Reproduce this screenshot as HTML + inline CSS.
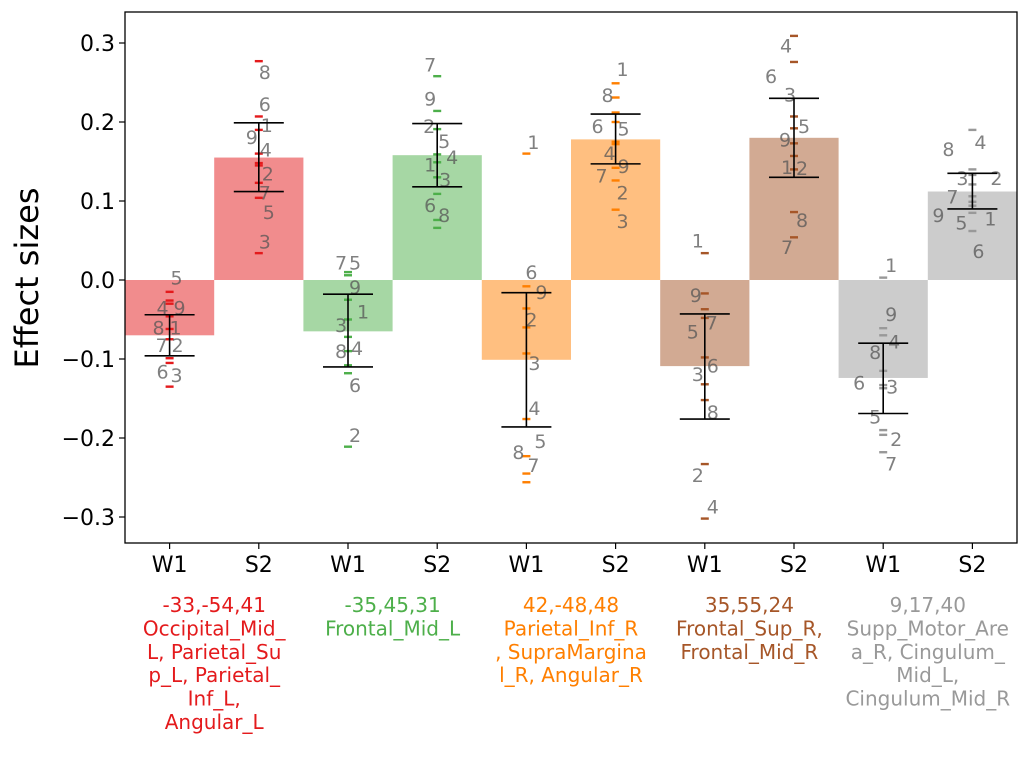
<!DOCTYPE html>
<html><head><meta charset="utf-8"><style>
body{margin:0;background:#fff;}
svg{font-family:"DejaVu Sans","Liberation Sans",sans-serif;}
</style></head><body>
<svg id="chart" width="1030" height="757" viewBox="0 0 1030 757" xmlns="http://www.w3.org/2000/svg"></svg>
<script>
const groups = ["W1","S2","W1","S2","W1","S2","W1","S2","W1","S2"];
const barValues = [-0.070,0.155,-0.065,0.158,-0.101,0.178,-0.109,0.180,-0.124,0.112];
const errHigh = [-0.044,0.199,-0.018,0.198,-0.016,0.210,-0.043,0.230,-0.080,0.135];
const errLow = [-0.096,0.112,-0.110,0.118,-0.186,0.147,-0.176,0.130,-0.169,0.090];
const pointValues = [
 [-0.015,-0.026,-0.046,-0.062,-0.075,-0.099,-0.105,-0.135,-0.03],
 [0.277,0.207,0.148,0.145,0.123,0.104,0.034,0.19,0.16],
 [0.010,0.006,-0.025,-0.072,-0.108,-0.118,-0.211,-0.05,-0.09],
 [0.258,0.214,0.191,0.159,0.149,0.109,0.076,0.066,0.13],
 [0.160,-0.008,-0.036,-0.093,-0.176,-0.223,-0.245,-0.256,-0.06],
 [0.249,0.231,0.212,0.200,0.175,0.172,0.142,0.126,0.089],
 [0.034,-0.017,-0.037,-0.048,-0.098,-0.132,-0.152,-0.233,-0.302],
 [0.309,0.276,0.207,0.192,0.173,0.157,0.086,0.054,0.14],
 [0.003,-0.061,-0.070,-0.115,-0.133,-0.137,-0.190,-0.196,-0.218],
 [0.190,0.140,0.133,0.121,0.106,0.099,0.094,0.085,0.062]
];
const labelTexts = ["1","2","3","4","5","6","7","8","9"];
const labelValues = [
 [-0.060,-0.082,-0.120,-0.035,0.003,-0.116,-0.082,-0.060,-0.035],
 [0.196,0.135,0.049,0.165,0.086,0.223,0.111,0.263,0.181],
 [-0.040,-0.196,-0.057,-0.086,0.022,-0.133,0.022,-0.090,-0.009],
 [0.146,0.195,0.127,0.156,0.176,0.095,0.273,0.082,0.230],
 [0.175,-0.050,-0.105,-0.162,-0.204,0.010,-0.234,-0.218,-0.015],
 [0.267,0.111,0.075,0.161,0.192,0.195,0.132,0.234,0.144],
 [0.050,-0.247,-0.119,-0.287,-0.065,-0.108,-0.054,-0.167,-0.019],
 [0.143,0.142,0.235,0.297,0.195,0.258,0.042,0.076,0.178],
 [0.019,-0.201,-0.135,-0.078,-0.173,-0.130,-0.232,-0.091,-0.043],
 [0.078,0.129,0.129,0.175,0.073,0.037,0.106,0.166,0.082]
];
const labelDx = [
 [6,8,7,-7,7,-7,-8,-11,10],
 [8,9,6,7,10,6,6,6,-7],
 [15,7,-7,9,7,7,-7,-7,7],
 [-7,-8,8,15,7,-7,-7,7,-7],
 [7,5,8,8,14,5,7,-8,15],
 [7,7,7,-6,8,-18,-14,-8,8],
 [-7,-7,-7,8,-12,8,7,8,-9],
 [-7,8,-4,-8,10,-23,-7,8,-9],
 [8,13,9,11,-8,-24,8,-8,8],
 [18,24,-10,8,-11,6,-20,-24,-34]
];
const yTicks = [-0.3,-0.2,-0.1,0.0,0.1,0.2,0.3];
const yTickLabels = ["\u22120.3","\u22120.2","\u22120.1","0.0","0.1","0.2","0.3"];
const regionLines = [
 ["-33,-54,41","Occipital_Mid_","L, Parietal_Su","p_L, Parietal_","Inf_L,","Angular_L"],
 ["-35,45,31","Frontal_Mid_L"],
 ["42,-48,48","Parietal_Inf_R",", SupraMargina","l_R, Angular_R"],
 ["35,55,24","Frontal_Sup_R,","Frontal_Mid_R"],
 ["9,17,40","Supp_Motor_Are","a_R, Cingulum_","Mid_L,","Cingulum_Mid_R"]
];
const colors = ["#e41a1c","#4daf4a","#ff7f00","#a65628","#999999"];
const barColors = ["#f18c8d","#a6d7a4","#ffbf80","#d2aa93","#cccccc"];

const NS="http://www.w3.org/2000/svg";
const svg=document.getElementById('chart');
const L=125,R=1017,T=12,B=543;
const bw=(R-L)/groups.length;
function y(v){return 280-790*v;}
function xc(i){return L+bw*(i+0.5);}
function mk(tag,attrs,parent){const e=document.createElementNS(NS,tag);for(const k in attrs)e.setAttribute(k,attrs[k]);(parent||svg).appendChild(e);return e;}

for(let i=0;i<groups.length;i++){
  const g=Math.floor(i/2);
  const v=barValues[i];
  const r=mk('rect',{x:L+bw*i,y:Math.min(y(v),y(0)),width:bw,height:Math.abs(y(v)-y(0)),fill:barColors[g]});
  
  
}
for(let i=0;i<groups.length;i++){
  const g=Math.floor(i/2), cx=xc(i);
  pointValues[i].forEach(function(p){
    const d=mk('rect',{x:cx-4,y:y(p)-1.2,width:8,height:2.4,fill:colors[g]});
    
    
  });
  labelValues[i].forEach(function(lv,k){
    const t=mk('text',{x:cx+labelDx[i][k],y:y(lv)+7,'text-anchor':'middle','font-size':19,fill:'#555','fill-opacity':0.75});
    t.textContent=labelTexts[k];
    
    
  });
  const eg=mk('g',{stroke:'#000','stroke-width':1.6});
  
  
  mk('line',{x1:cx,x2:cx,y1:y(errHigh[i]),y2:y(errLow[i])},eg);
  mk('line',{x1:cx-25,x2:cx+25,y1:y(errHigh[i]),y2:y(errHigh[i])},eg);
  mk('line',{x1:cx-25,x2:cx+25,y1:y(errLow[i]),y2:y(errLow[i])},eg);
  mk('line',{x1:cx,x2:cx,y1:B,y2:B+6,stroke:'#000','stroke-width':1.2});
  const xl=mk('text',{x:cx,y:572,'text-anchor':'middle','font-size':22,fill:'#000'});
  xl.textContent=groups[i];
  
  
}
const frame=mk('rect',{x:L,y:T,width:R-L,height:B-T,fill:'none',stroke:'#000','stroke-width':1.3});


yTicks.forEach(function(t,k){
  mk('line',{x1:L-6,x2:L,y1:y(t),y2:y(t),stroke:'#000','stroke-width':1.2});
  const tl=mk('text',{x:L-10,y:y(t)+8,'text-anchor':'end','font-size':22,fill:'#000'});
  tl.textContent=yTickLabels[k];
  
  
});
const yt=mk('text',{x:0,y:0,'text-anchor':'middle','font-size':32,fill:'#000',transform:'translate(38,278) rotate(-90)'});
yt.textContent='Effect sizes';


regionLines.forEach(function(lines,g){
  const cx=L+bw*(2*g+1);
  lines.forEach(function(s,k){
    const t=mk('text',{x:cx,y:612+k*23.4,'text-anchor':'middle','font-size':20,fill:colors[g]});
    t.textContent=s;
    
    
  });
});
</script>
</body></html>
